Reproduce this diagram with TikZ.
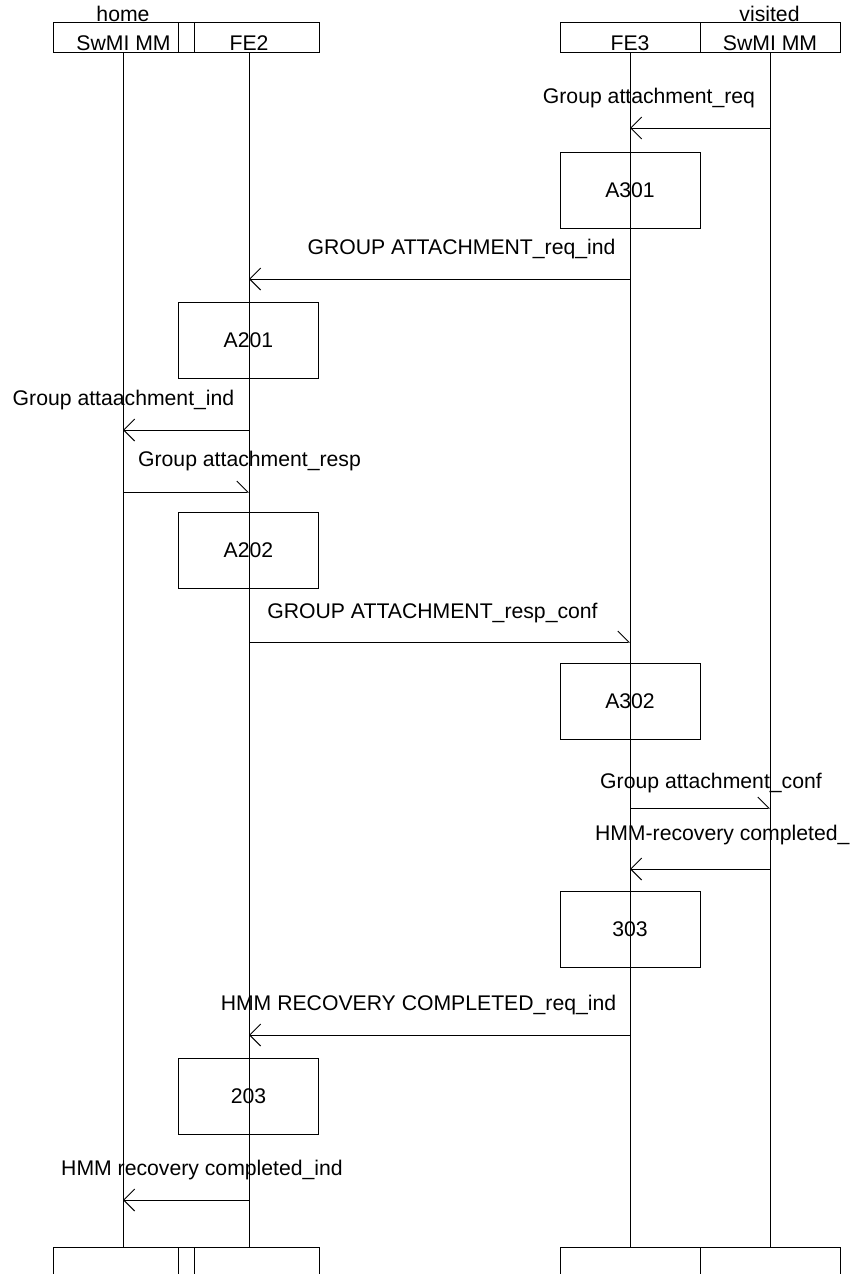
\documentclass[tikz,border=0pt]{standalone}
\usepackage{fontspec}
\setmainfont{Liberation Sans}
\usetikzlibrary{arrows.meta}
\begin{document}
\begin{tikzpicture}[x=1pt,y=-1pt,
  every node/.style={inner sep=0pt, outer sep=0pt},
  txt/.style={font=\fontsize{21.2}{25}\selectfont, anchor=base},
  hdr/.style={draw, line width=1pt, minimum height=30pt},
  act/.style={draw, line width=1pt, minimum width=140pt, minimum height=76pt, font=\fontsize{21.2}{25}\selectfont},
  life/.style={line width=1pt},
  msgl/.style={line width=1pt, -{Straight Barb[length=11pt,width=22pt]}},
  msgr/.style={line width=1pt, -{Straight Barb[length=11pt,width=22pt,harpoon]}},
]
\clip (0,0) rectangle (854,1274);
% header boxes
\node[hdr, minimum width=125pt] (hA) at (115.5,37) {};
\node[hdr, minimum width=16pt]  (hX) at (186,37) {};
\node[hdr, minimum width=125pt] (hB) at (256.5,37) {};
\node[hdr, minimum width=140pt] (hC) at (630,37) {};
\node[hdr, minimum width=140pt] (hD) at (770,37) {};
\node[txt] (tA) at (123.5,50.5) {SwMI MM};
\node[txt] (tB) at (249,50.5) {FE2};
\node[txt] (tC) at (630,50.5) {FE3};
\node[txt] (tD) at (770,50.5) {SwMI MM};
\node[txt] (home) at (123,21) {home};
\node[txt] (visited) at (769.5,21) {visited};
% bottom boxes
\node[hdr, minimum width=125pt] (bA) at (115.5,1262) {};
\node[hdr, minimum width=16pt]  (bX) at (186,1262) {};
\node[hdr, minimum width=125pt] (bB) at (256.5,1262) {};
\node[hdr, minimum width=140pt] (bC) at (630,1262) {};
\node[hdr, minimum width=140pt] (bD) at (770,1262) {};
% lifeline x positions
\coordinate (LA) at (123,0);
\coordinate (LB) at (249,0);
\coordinate (LC) at (630,0);
\coordinate (LD) at (770,0);
\draw[life] (hA.south -| LA) -- (bA.north -| LA);
\draw[life] (hB.south -| LB) -- (bB.north -| LB);
\draw[life] (hC.south -| LC) -- (bC.north -| LC);
\draw[life] (hD.south -| LD) -- (bD.north -| LD);
% action boxes
\node[act] (A301) at (630,190) {A301};
\node[act] (A201) at (248.5,340) {A201};
\node[act] (A202) at (248.5,550.5) {A202};
\node[act] (A302) at (630,701.5) {A302};
\node[act] (B303) at (630,929) {303};
\node[act] (B203) at (248.5,1096) {203};
% message end points
\coordinate (m1s) at (770,128);  \coordinate (m1e) at (630,128);
\coordinate (m2s) at (630,279);  \coordinate (m2e) at (249,279);
\coordinate (m3s) at (249,430);  \coordinate (m3e) at (123,430);
\coordinate (m4s) at (123,492);  \coordinate (m4e) at (249,492);
\coordinate (m5s) at (249,642);  \coordinate (m5e) at (630,642);
\coordinate (m6s) at (630,808);  \coordinate (m6e) at (770,808);
\coordinate (m7s) at (770,869);  \coordinate (m7e) at (630,869);
\coordinate (m8s) at (630,1035); \coordinate (m8e) at (249,1035);
\coordinate (m9s) at (249,1200); \coordinate (m9e) at (123,1200);
\draw[msgl] (m1s) -- (m1e);
\draw[msgl] (m2s) -- (m2e);
\draw[msgl] (m3s) -- (m3e);
\draw[msgr] (m4s) -- (m4e);
\draw[msgr] (m5s) -- (m5e);
\draw[msgr] (m6s) -- (m6e);
\draw[msgl] (m7s) -- (m7e);
\draw[msgl] (m8s) -- (m8e);
\draw[msgl] (m9s) -- (m9e);
% message labels
\node[txt] (l1) at (649,103) {Group attachment\_req};
\node[txt] (l2) at (461.5,254) {GROUP ATTACHMENT\_req\_ind};
\node[txt] (l3) at (123.5,405) {Group attaachment\_ind};
\node[txt] (l4) at (249.5,466) {Group attachment\_resp};
\node[txt] (l5) at (432.5,618) {GROUP ATTACHMENT\_resp\_conf};
\node[txt] (l6) at (711,788) {Group attachment\_conf};
\node[txt, anchor=base west] (l7) at (595,840) {HMM-recovery completed\_};
\node[txt] (l8) at (418.5,1010) {HMM RECOVERY COMPLETED\_req\_ind};
\node[txt] (l9) at (202,1175) {HMM recovery completed\_ind};
\end{tikzpicture}
\end{document}
